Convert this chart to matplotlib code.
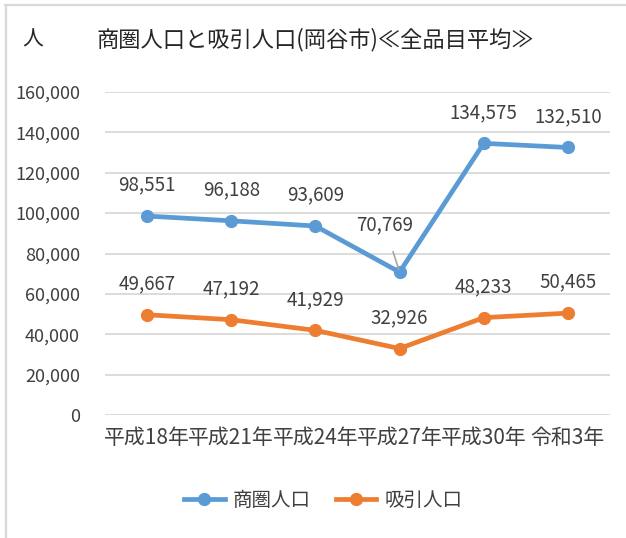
import matplotlib
matplotlib.use("Agg")
import matplotlib.pyplot as plt
from matplotlib.lines import Line2D

plt.rcParams['font.family'] = ['Noto Sans CJK JP', 'DejaVu Sans']

categories = ["平成18年", "平成21年", "平成24年", "平成27年", "平成30年", "令和3年"]
shoken = [98551, 96188, 93609, 70769, 134575, 132510]
kyuin = [49667, 47192, 41929, 32926, 48233, 50465]
series_names = ["商圏人口", "吸引人口"]
title = "商圏人口と吸引人口(岡谷市)≪全品目平均≫"
unit = "人"
yticks = [0, 20000, 40000, 60000, 80000, 100000, 120000, 140000, 160000]

W, H = 626, 538
fig = plt.figure(figsize=(W / 100, H / 100), dpi=100)
fig.patch.set_facecolor("white")

# axes in pixel coords
left, right, top, bottom = 105, 610, 92, 415
ax = fig.add_axes([left / W, 1 - bottom / H, (right - left) / W, (bottom - top) / H])
ax.set_facecolor("white")

blue = "#5B9BD5"
orange = "#ED7D31"
txt = "#404040"

x = list(range(len(categories)))
ax.plot(x, shoken, color=blue, lw=3.4, marker="o", ms=8.5, solid_capstyle="round", zorder=3)
ax.plot(x, kyuin, color=orange, lw=3.4, marker="o", ms=8.5, solid_capstyle="round", zorder=3)

ax.set_xlim(-0.5, len(categories) - 0.5)
ax.set_ylim(0, 160000)
ax.set_yticks(yticks)
ax.set_yticklabels([f"{v:,}" for v in yticks], fontsize=13, color=txt)
ax.set_xticks(x)
ax.set_xticklabels(categories, fontsize=15, color=txt)
ax.tick_params(axis="both", length=0)
ax.tick_params(axis="y", pad=18)
ax.tick_params(axis="x", pad=9)
ax.grid(axis="y", color="#D9D9D9", lw=1.3)
ax.set_axisbelow(True)
for s in ax.spines.values():
    s.set_visible(False)

# data labels
for i, v in enumerate(shoken):
    if i == 3:
        ax.annotate(f"{v:,}", xy=(i, v), xytext=(-15, 47), textcoords="offset pixels",
                    ha="center", va="center", fontsize=13.5, color=txt,
                    arrowprops=dict(arrowstyle="-", color="#A6A6A6", lw=1.2,
                                    shrinkA=10, shrinkB=2))
    else:
        ax.annotate(f"{v:,}", xy=(i, v), xytext=(0, 31), textcoords="offset pixels",
                    ha="center", va="center", fontsize=13.5, color=txt)
for i, v in enumerate(kyuin):
    ax.annotate(f"{v:,}", xy=(i, v), xytext=(0, 31), textcoords="offset pixels",
                ha="center", va="center", fontsize=13.5, color=txt)

# title and unit
fig.text(33 / W, 1 - 40 / H, unit, fontsize=15, color="#262626", ha="center", va="center")
fig.text(96 / W, 1 - 40 / H, title, fontsize=16, color="#262626", ha="left", va="center")

# legend
handles = [Line2D([0], [0], color=blue, lw=3.4, marker="o", ms=8.5),
           Line2D([0], [0], color=orange, lw=3.4, marker="o", ms=8.5)]
fig.legend(handles, series_names, loc="center", bbox_to_anchor=(323 / W, 1 - 500 / H),
           ncol=2, frameon=False, fontsize=14, handlelength=2.1, columnspacing=1.3,
           handletextpad=0.4, labelcolor=txt)

# outer frame lines (top and left)
fig.add_artist(Line2D([5 / W, 1], [1 - 4.5 / H, 1 - 4.5 / H], color="#D9D9D9", lw=1.6,
                      transform=fig.transFigure))
fig.add_artist(Line2D([6 / W, 6 / W], [0, 1 - 4.5 / H], color="#D9D9D9", lw=1.6,
                      transform=fig.transFigure))

fig.savefig("out.png", dpi=100, facecolor="white")
